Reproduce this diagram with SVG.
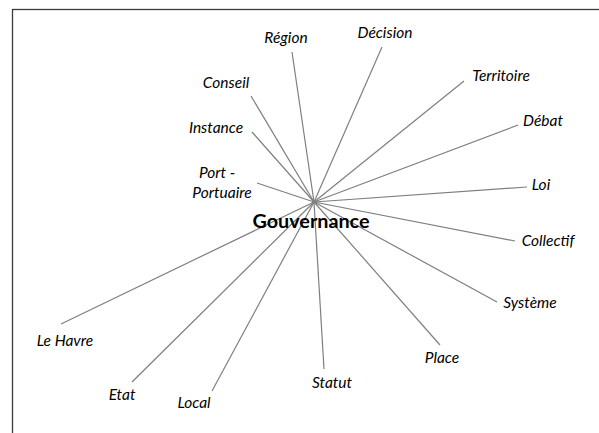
<svg xmlns="http://www.w3.org/2000/svg" width="599" height="433" viewBox="0 0 599 433">
<style>
.lbl{font-family:Lato,"Open Sans","Liberation Sans",sans-serif;font-style:italic;font-size:15.5px;fill:#000;text-anchor:middle}
.ctr{font-family:Lato,"Open Sans","Liberation Sans",sans-serif;font-weight:bold;font-size:19.8px;fill:#000;text-anchor:middle}
.edge{stroke:#7f7f7f;stroke-width:1.2;fill:none}
</style>
<rect x="12.5" y="9.5" width="600" height="440" fill="#fff" stroke="#3a3a3a" stroke-width="1.3"/>
<g id="connectors">
<line class="edge" x1="314" y1="202" x2="292" y2="52"/>
<line class="edge" x1="314" y1="202" x2="382" y2="47"/>
<line class="edge" x1="314" y1="202" x2="464" y2="81"/>
<line class="edge" x1="314" y1="202" x2="518" y2="125"/>
<line class="edge" x1="314" y1="202" x2="527" y2="187"/>
<line class="edge" x1="314" y1="202" x2="251" y2="96"/>
<line class="edge" x1="314" y1="202" x2="252" y2="132"/>
<line class="edge" x1="314" y1="202" x2="257" y2="183"/>
<line class="edge" x1="314" y1="202" x2="61" y2="324"/>
<line class="edge" x1="314" y1="202" x2="132" y2="382"/>
<line class="edge" x1="314" y1="202" x2="212" y2="391"/>
<line class="edge" x1="314" y1="202" x2="324" y2="369"/>
<line class="edge" x1="314" y1="202" x2="440" y2="345"/>
<line class="edge" x1="314" y1="202" x2="497" y2="302"/>
<line class="edge" x1="314" y1="202" x2="515" y2="241"/>
</g>
<g id="gouvernance"><text class="ctr" x="311" y="228">Gouvernance</text></g>
<g id="region"><text class="lbl" x="286" y="43">Région</text></g>
<g id="decision"><text class="lbl" x="385" y="38">Décision</text></g>
<g id="territoire"><text class="lbl" x="501" y="81">Territoire</text></g>
<g id="debat"><text class="lbl" x="543" y="126">Débat</text></g>
<g id="loi"><text class="lbl" x="541" y="190">Loi</text></g>
<g id="conseil"><text class="lbl" x="226" y="88">Conseil</text></g>
<g id="instance"><text class="lbl" x="216" y="133">Instance</text></g>
<g id="port"><text class="lbl" x="217" y="178">Port -</text><text class="lbl" x="222" y="198">Portuaire</text></g>
<g id="lehavre"><text class="lbl" x="65" y="346">Le Havre</text></g>
<g id="etat"><text class="lbl" x="122" y="400">Etat</text></g>
<g id="local"><text class="lbl" x="194" y="408">Local</text></g>
<g id="statut"><text class="lbl" x="332" y="388">Statut</text></g>
<g id="place"><text class="lbl" x="442" y="363">Place</text></g>
<g id="systeme"><text class="lbl" x="530" y="308">Système</text></g>
<g id="collectif"><text class="lbl" x="548" y="246">Collectif</text></g>
</svg>
